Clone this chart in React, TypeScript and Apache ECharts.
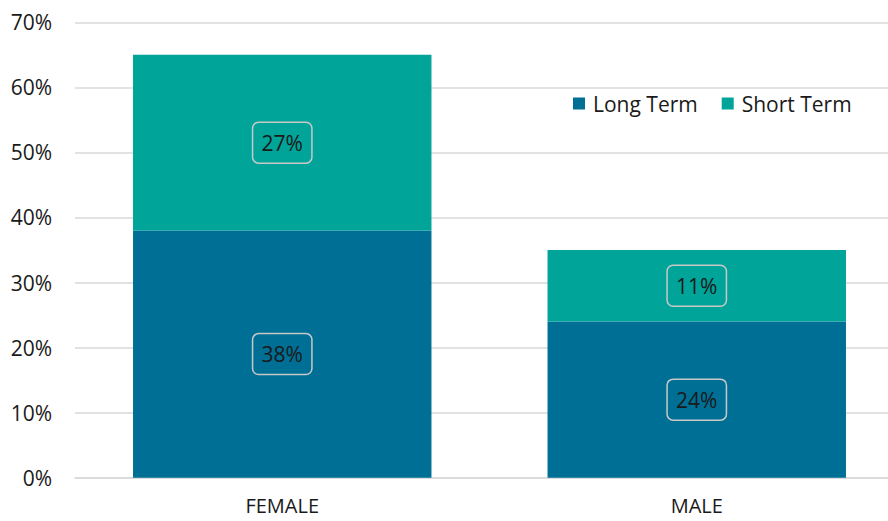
import React, { useEffect, useRef } from "react";
import * as echarts from "echarts";

const categories = ["FEMALE", "MALE"];
const longTerm = [38, 24];
const shortTerm = [27, 11];
const yTicks = [0, 10, 20, 30, 40, 50, 60, 70];

const FONT = "'Open Sans', sans-serif";

export default function App() {
  const ref = useRef<HTMLDivElement>(null);
  useEffect(() => {
    document.body.style.margin = "0";
    document.body.style.overflow = "hidden";
    const chart = echarts.init(ref.current!, undefined, { renderer: "svg" });
    const label = {
      show: true,
      position: "inside",
      formatter: (p: any) => p.value + "%",
      color: "#1a1a1a",
      fontFamily: FONT,
      fontSize: 21,
      lineHeight: 23,
      borderColor: "#c8c8c8",
      borderWidth: 1.5,
      borderRadius: 6,
      padding: [9, 9],
    };
    chart.setOption({
      animation: false,
      grid: { left: 75, top: 22.3, right: 0, bottom: 43.3, containLabel: false },
      legend: {
        data: ["Long Term", "Short Term"],
        left: 568,
        top: 88,
        itemWidth: 12,
        itemHeight: 12,
        itemGap: 24,
        icon: "rect",
        textStyle: {
          fontFamily: FONT,
          fontSize: 21,
          color: "#1a1a1a",
          padding: [0, 0, 0, 3],
        },
      },
      xAxis: {
        type: "category",
        data: categories,
        axisLine: { lineStyle: { color: "#d9d9d9", width: 1.5 } },
        axisTick: { show: false },
        axisLabel: {
          fontFamily: FONT,
          fontSize: 20,
          lineHeight: 20,
          color: "#1a1a1a",
          margin: 18,
        },
      },
      yAxis: {
        type: "value",
        min: yTicks[0],
        max: yTicks[yTicks.length - 1],
        interval: 10,
        axisLabel: {
          formatter: "{value}%",
          fontFamily: FONT,
          fontSize: 21,
          color: "#1a1a1a",
          margin: 23,
        },
        splitLine: { lineStyle: { color: "#d9d9d9", width: 1.5 } },
        axisLine: { show: false },
        axisTick: { show: false },
      },
      series: [
        {
          name: "Long Term",
          type: "bar",
          stack: "total",
          data: longTerm,
          barWidth: "72%",
          itemStyle: { color: "#006F95" },
          label,
        },
        {
          name: "Short Term",
          type: "bar",
          stack: "total",
          data: shortTerm,
          barWidth: "72%",
          itemStyle: { color: "#00A499" },
          label,
        },
      ],
    });
    return () => chart.dispose();
  }, []);
  return (
    <div style={{ width: 888, height: 521, overflow: "hidden" }}>
      <div ref={ref} style={{ width: 904, height: 521 }} />
    </div>
  );
}
